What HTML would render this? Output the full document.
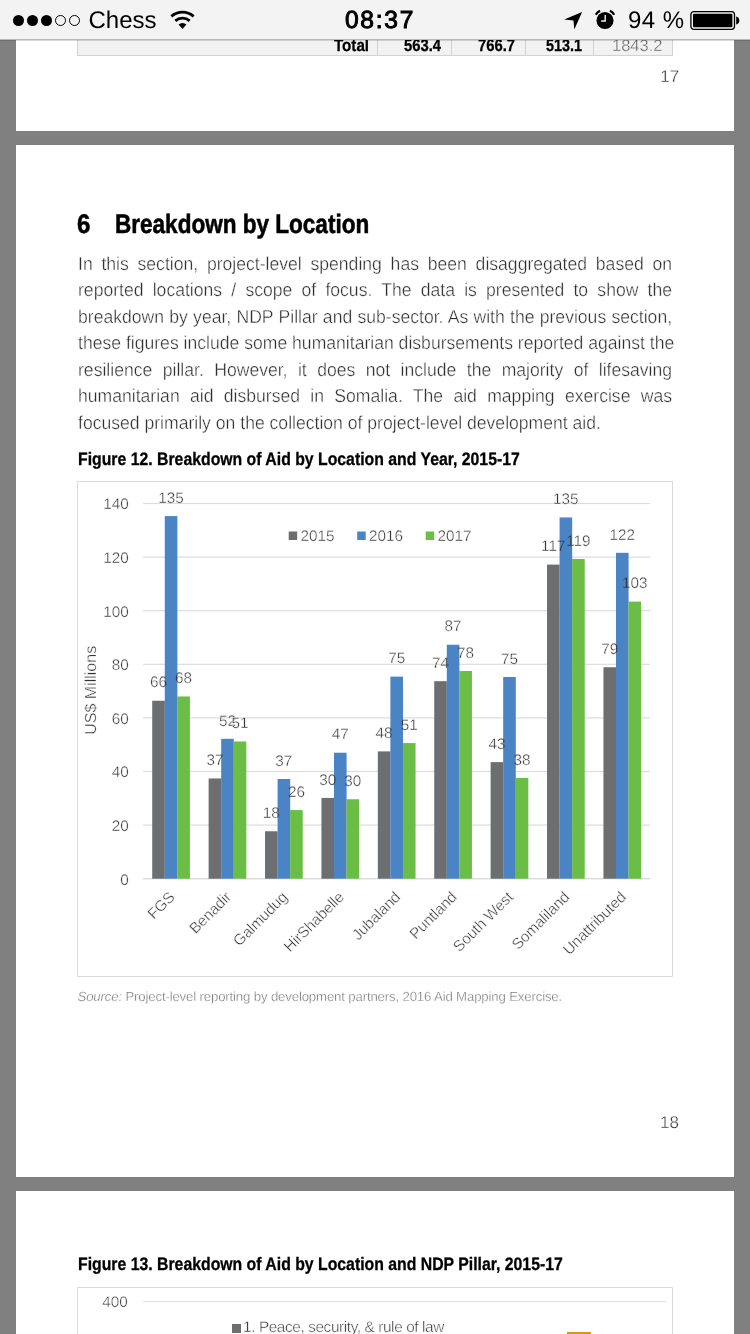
<!DOCTYPE html>
<html><head><meta charset="utf-8"><title>page</title>
<style>
html,body{margin:0;padding:0}
body{text-rendering:geometricPrecision;width:750px;height:1334px;overflow:hidden;background:#808080;position:relative;font-family:"Liberation Sans",sans-serif;}
.abs{position:absolute}
.page{position:absolute;left:16px;width:718px;background:#fff}
#sb{position:absolute;left:0;top:0;width:750px;height:39.3px;background:#f3f3f3;border-bottom:1px solid #b8b8b8;box-shadow:0 0.5px 0.6px rgba(0,0,0,.15);box-sizing:content-box;z-index:5}
.sbt{position:absolute;top:6.8px;font-size:24px;line-height:28px;color:#000;white-space:nowrap}
.dot{position:absolute;top:15.2px;width:11px;height:11px;border-radius:50%;background:#000;box-sizing:border-box}
.dot.h{background:transparent;border:1.2px solid #000}
.pl{position:absolute;left:77.5px;width:631.3px;font-size:18.7px;line-height:22px;color:#303030;-webkit-text-stroke:0.36px #fff;text-align:justify;text-align-last:justify;white-space:nowrap;transform:scaleX(.941);transform-origin:0 50%}
.pl.last{text-align:left;text-align-last:left}
.cb{position:absolute;white-space:nowrap;font-weight:bold;color:#000;transform-origin:0 50%;-webkit-text-stroke:0.3px #000}
.t{font-family:"Liberation Sans",sans-serif;font-size:15.3px;fill:#333333;stroke:#fff;stroke-width:.36px;text-rendering:geometricPrecision}
.tn{font-family:"Liberation Sans",sans-serif;font-size:15.3px;fill:#6a6a6a;text-rendering:geometricPrecision}
.tc{font-family:"Liberation Sans",sans-serif;font-size:15.3px;letter-spacing:-0.15px;fill:#333333;stroke:#fff;stroke-width:.36px;text-rendering:geometricPrecision}
.ty{font-family:"Liberation Sans",sans-serif;font-size:16px;fill:#333333;stroke:#fff;stroke-width:.36px;text-rendering:geometricPrecision}
.pn{position:absolute;font-size:17px;color:#2e2e2e;-webkit-text-stroke:0.36px #fff;white-space:nowrap}
</style></head><body>
<div id="wrap" style="position:absolute;left:0;top:0;width:750px;height:1334px;overflow:hidden;will-change:transform">

<!-- page 1 remainder -->
<div class="page" style="top:0;height:131px"></div>
<div class="abs" style="left:77px;top:30.8px;width:595.5px;height:25px;background:#f2f2f2;border:1px solid #d2d2d2;box-sizing:border-box"></div>
<div class="abs" style="left:376.5px;top:30.8px;width:1px;height:25px;background:#d2d2d2"></div>
<div class="abs" style="left:450.5px;top:30.8px;width:1px;height:25px;background:#d2d2d2"></div>
<div class="abs" style="left:524.5px;top:30.8px;width:1px;height:25px;background:#d2d2d2"></div>
<div class="abs" style="left:592.5px;top:30.8px;width:1px;height:25px;background:#d2d2d2"></div>
<div class="cb" id="tot" style="left:333.8px;top:35.5px;font-size:17px;line-height:20px;transform:scaleX(.89)">Total</div>
<div class="cb" id="c1" style="left:403.5px;top:35.5px;font-size:17px;line-height:20px;transform:scaleX(.87)">563.4</div>
<div class="cb" id="c2" style="left:477.5px;top:35.5px;font-size:17px;line-height:20px;transform:scaleX(.87)">766.7</div>
<div class="cb" id="c3" style="left:545.5px;top:35.5px;font-size:17px;line-height:20px;transform:scaleX(.845)">513.1</div>
<div class="abs" id="c4" style="left:612px;top:35.5px;font-size:16.5px;line-height:20px;color:#5c5c5c;-webkit-text-stroke:0.36px #f2f2f2;white-space:nowrap">1843.2</div>
<div class="pn" id="p17" style="left:660.3px;top:66.5px;line-height:20px">17</div>

<!-- page 2 -->
<div class="page" style="top:144.9px;height:1031.9px"></div>
<div class="cb" id="h6" style="left:77px;top:209.25px;font-size:26.7px;line-height:30px;transform:scaleX(.9);-webkit-text-stroke:0.55px #000">6</div>
<div class="cb" id="h1" style="left:114.5px;top:209.25px;font-size:26.7px;line-height:30px;transform:scaleX(.8445);-webkit-text-stroke:0.55px #000">Breakdown by Location</div>
<div class="pl" style="top:252.9px">In this section, project-level spending has been disaggregated based on</div>
<div class="pl" style="top:279.4px">reported locations / scope of focus. The data is presented to show the</div>
<div class="pl" style="top:305.9px">breakdown by year, NDP Pillar and sub-sector. As with the previous section,</div>
<div class="pl" style="top:332.4px">these figures include some humanitarian disbursements reported against the</div>
<div class="pl" style="top:358.9px">resilience pillar. However, it does not include the majority of lifesaving</div>
<div class="pl" style="top:385.4px">humanitarian aid disbursed in Somalia. The aid mapping exercise was</div>
<div class="pl last" style="top:411.8px"><span id="lastline">focused primarily on the collection of project-level development aid.</span></div>
<div class="cb" id="f12" style="left:77.5px;top:447.5px;font-size:18px;line-height:22px;transform:scaleX(.878)">Figure 12. Breakdown of Aid by Location and Year, 2015-17</div>
<div class="abs" style="left:77px;top:481px;width:596px;height:496px;border:1.3px solid #dbdbdb;box-sizing:border-box"></div>
<svg class="abs" style="left:0;top:0" width="750" height="1334" viewBox="0 0 750 1334">
<defs><clipPath id="i0"><rect x="164.78" y="516.10" width="12.55" height="362.60"/></clipPath><clipPath id="o0"><path clip-rule="evenodd" d="M0 0H750V1334H0Z M164.78 516.10h12.55v362.60h-12.55Z"/></clipPath><clipPath id="i1"><rect x="221.18" y="738.80" width="12.55" height="139.90"/></clipPath><clipPath id="o1"><path clip-rule="evenodd" d="M0 0H750V1334H0Z M221.18 738.80h12.55v139.90h-12.55Z"/></clipPath><clipPath id="i2"><rect x="277.58" y="779.00" width="12.55" height="99.70"/></clipPath><clipPath id="o2"><path clip-rule="evenodd" d="M0 0H750V1334H0Z M277.58 779.00h12.55v99.70h-12.55Z"/></clipPath><clipPath id="i3"><rect x="333.98" y="752.74" width="12.55" height="125.96"/></clipPath><clipPath id="o3"><path clip-rule="evenodd" d="M0 0H750V1334H0Z M333.98 752.74h12.55v125.96h-12.55Z"/></clipPath><clipPath id="i4"><rect x="390.38" y="676.63" width="12.55" height="202.07"/></clipPath><clipPath id="o4"><path clip-rule="evenodd" d="M0 0H750V1334H0Z M390.38 676.63h12.55v202.07h-12.55Z"/></clipPath><clipPath id="i5"><rect x="446.78" y="644.74" width="12.55" height="233.96"/></clipPath><clipPath id="o5"><path clip-rule="evenodd" d="M0 0H750V1334H0Z M446.78 644.74h12.55v233.96h-12.55Z"/></clipPath><clipPath id="i6"><rect x="503.18" y="677.03" width="12.55" height="201.67"/></clipPath><clipPath id="o6"><path clip-rule="evenodd" d="M0 0H750V1334H0Z M503.18 677.03h12.55v201.67h-12.55Z"/></clipPath><clipPath id="i7"><rect x="559.57" y="517.44" width="12.55" height="361.26"/></clipPath><clipPath id="o7"><path clip-rule="evenodd" d="M0 0H750V1334H0Z M559.57 517.44h12.55v361.26h-12.55Z"/></clipPath><clipPath id="i8"><rect x="615.98" y="552.81" width="12.55" height="325.89"/></clipPath><clipPath id="o8"><path clip-rule="evenodd" d="M0 0H750V1334H0Z M615.98 552.81h12.55v325.89h-12.55Z"/></clipPath></defs>
<rect x="143.0" y="878.10" width="507.1" height="1.2" fill="#d4d4d4"/>
<text x="128.8" y="884.60" text-anchor="end" class="t">0</text>
<rect x="143.0" y="824.50" width="507.1" height="1.2" fill="#dcdcdc"/>
<text x="128.8" y="831.00" text-anchor="end" class="t">20</text>
<rect x="143.0" y="770.90" width="507.1" height="1.2" fill="#dcdcdc"/>
<text x="128.8" y="777.40" text-anchor="end" class="t">40</text>
<rect x="143.0" y="717.30" width="507.1" height="1.2" fill="#dcdcdc"/>
<text x="128.8" y="723.80" text-anchor="end" class="t">60</text>
<rect x="143.0" y="663.70" width="507.1" height="1.2" fill="#dcdcdc"/>
<text x="128.8" y="670.20" text-anchor="end" class="t">80</text>
<rect x="143.0" y="610.10" width="507.1" height="1.2" fill="#dcdcdc"/>
<text x="128.8" y="616.60" text-anchor="end" class="t">100</text>
<rect x="143.0" y="556.50" width="507.1" height="1.2" fill="#dcdcdc"/>
<text x="128.8" y="563.00" text-anchor="end" class="t">120</text>
<rect x="143.0" y="502.90" width="507.1" height="1.2" fill="#dcdcdc"/>
<text x="128.8" y="509.40" text-anchor="end" class="t">140</text>
<rect x="152.22" y="700.75" width="12.60" height="177.95" fill="#6d6e70"/>
<rect x="164.78" y="516.10" width="12.60" height="362.60" fill="#4a84c4"/>
<rect x="177.32" y="696.46" width="12.60" height="182.24" fill="#6abd45"/>
<rect x="208.62" y="778.47" width="12.60" height="100.23" fill="#6d6e70"/>
<rect x="221.18" y="738.80" width="12.60" height="139.90" fill="#4a84c4"/>
<rect x="233.72" y="741.48" width="12.60" height="137.22" fill="#6abd45"/>
<rect x="265.03" y="831.26" width="12.60" height="47.44" fill="#6d6e70"/>
<rect x="277.58" y="779.00" width="12.60" height="99.70" fill="#4a84c4"/>
<rect x="290.13" y="810.09" width="12.60" height="68.61" fill="#6abd45"/>
<rect x="321.43" y="797.90" width="12.60" height="80.80" fill="#6d6e70"/>
<rect x="333.98" y="752.74" width="12.60" height="125.96" fill="#4a84c4"/>
<rect x="346.53" y="799.24" width="12.60" height="79.46" fill="#6abd45"/>
<rect x="377.83" y="751.40" width="12.60" height="127.30" fill="#6d6e70"/>
<rect x="390.38" y="676.63" width="12.60" height="202.07" fill="#4a84c4"/>
<rect x="402.93" y="743.09" width="12.60" height="135.61" fill="#6abd45"/>
<rect x="434.23" y="681.18" width="12.60" height="197.52" fill="#6d6e70"/>
<rect x="446.78" y="644.74" width="12.60" height="233.96" fill="#4a84c4"/>
<rect x="459.33" y="671.00" width="12.60" height="207.70" fill="#6abd45"/>
<rect x="490.62" y="762.12" width="12.60" height="116.58" fill="#6d6e70"/>
<rect x="503.18" y="677.03" width="12.60" height="201.67" fill="#4a84c4"/>
<rect x="515.73" y="777.93" width="12.60" height="100.77" fill="#6abd45"/>
<rect x="547.02" y="564.60" width="12.60" height="314.10" fill="#6d6e70"/>
<rect x="559.57" y="517.44" width="12.60" height="361.26" fill="#4a84c4"/>
<rect x="572.12" y="558.98" width="12.60" height="319.72" fill="#6abd45"/>
<rect x="603.43" y="667.25" width="12.60" height="211.45" fill="#6d6e70"/>
<rect x="615.98" y="552.81" width="12.60" height="325.89" fill="#4a84c4"/>
<rect x="628.53" y="601.59" width="12.60" height="277.11" fill="#6abd45"/>
<text x="158.50" y="687.45" text-anchor="middle" class="t" clip-path="url(#o0)">66</text>
<text x="158.50" y="687.45" text-anchor="middle" class="t" style="stroke:#4a84c4" clip-path="url(#i0)">66</text>
<text x="171.05" y="502.80" text-anchor="middle" class="t">135</text>
<text x="183.60" y="683.16" text-anchor="middle" class="t" clip-path="url(#o0)">68</text>
<text x="183.60" y="683.16" text-anchor="middle" class="t" style="stroke:#4a84c4" clip-path="url(#i0)">68</text>
<text x="214.90" y="765.17" text-anchor="middle" class="t" clip-path="url(#o1)">37</text>
<text x="214.90" y="765.17" text-anchor="middle" class="t" style="stroke:#4a84c4" clip-path="url(#i1)">37</text>
<text x="227.45" y="725.50" text-anchor="middle" class="t">52</text>
<text x="240.00" y="728.18" text-anchor="middle" class="t">51</text>
<text x="271.30" y="817.96" text-anchor="middle" class="t" clip-path="url(#o2)">18</text>
<text x="271.30" y="817.96" text-anchor="middle" class="t" style="stroke:#4a84c4" clip-path="url(#i2)">18</text>
<text x="283.85" y="765.70" text-anchor="middle" class="t">37</text>
<text x="296.40" y="796.79" text-anchor="middle" class="t" clip-path="url(#o2)">26</text>
<text x="296.40" y="796.79" text-anchor="middle" class="t" style="stroke:#4a84c4" clip-path="url(#i2)">26</text>
<text x="327.70" y="784.60" text-anchor="middle" class="t" clip-path="url(#o3)">30</text>
<text x="327.70" y="784.60" text-anchor="middle" class="t" style="stroke:#4a84c4" clip-path="url(#i3)">30</text>
<text x="340.25" y="739.44" text-anchor="middle" class="t">47</text>
<text x="352.80" y="785.94" text-anchor="middle" class="t" clip-path="url(#o3)">30</text>
<text x="352.80" y="785.94" text-anchor="middle" class="t" style="stroke:#4a84c4" clip-path="url(#i3)">30</text>
<text x="384.10" y="738.10" text-anchor="middle" class="t" clip-path="url(#o4)">48</text>
<text x="384.10" y="738.10" text-anchor="middle" class="t" style="stroke:#4a84c4" clip-path="url(#i4)">48</text>
<text x="396.65" y="663.33" text-anchor="middle" class="t">75</text>
<text x="409.20" y="729.79" text-anchor="middle" class="t" clip-path="url(#o4)">51</text>
<text x="409.20" y="729.79" text-anchor="middle" class="t" style="stroke:#4a84c4" clip-path="url(#i4)">51</text>
<text x="440.50" y="667.88" text-anchor="middle" class="t" clip-path="url(#o5)">74</text>
<text x="440.50" y="667.88" text-anchor="middle" class="t" style="stroke:#4a84c4" clip-path="url(#i5)">74</text>
<text x="453.05" y="631.44" text-anchor="middle" class="t">87</text>
<text x="465.60" y="657.70" text-anchor="middle" class="t" clip-path="url(#o5)">78</text>
<text x="465.60" y="657.70" text-anchor="middle" class="t" style="stroke:#4a84c4" clip-path="url(#i5)">78</text>
<text x="496.90" y="748.82" text-anchor="middle" class="t" clip-path="url(#o6)">43</text>
<text x="496.90" y="748.82" text-anchor="middle" class="t" style="stroke:#4a84c4" clip-path="url(#i6)">43</text>
<text x="509.45" y="663.73" text-anchor="middle" class="t">75</text>
<text x="522.00" y="764.63" text-anchor="middle" class="t" clip-path="url(#o6)">38</text>
<text x="522.00" y="764.63" text-anchor="middle" class="t" style="stroke:#4a84c4" clip-path="url(#i6)">38</text>
<text x="553.30" y="551.30" text-anchor="middle" class="t" clip-path="url(#o7)">117</text>
<text x="553.30" y="551.30" text-anchor="middle" class="t" style="stroke:#4a84c4" clip-path="url(#i7)">117</text>
<text x="565.85" y="504.14" text-anchor="middle" class="t">135</text>
<text x="578.40" y="545.68" text-anchor="middle" class="t" clip-path="url(#o7)">119</text>
<text x="578.40" y="545.68" text-anchor="middle" class="t" style="stroke:#4a84c4" clip-path="url(#i7)">119</text>
<text x="609.70" y="653.95" text-anchor="middle" class="t" clip-path="url(#o8)">79</text>
<text x="609.70" y="653.95" text-anchor="middle" class="t" style="stroke:#4a84c4" clip-path="url(#i8)">79</text>
<text x="622.25" y="539.51" text-anchor="middle" class="t">122</text>
<text x="634.80" y="588.29" text-anchor="middle" class="t" clip-path="url(#o8)">103</text>
<text x="634.80" y="588.29" text-anchor="middle" class="t" style="stroke:#4a84c4" clip-path="url(#i8)">103</text>
<text transform="translate(172.8,895.2) rotate(-45)" text-anchor="end" class="tc" y="4">FGS</text>
<text transform="translate(229.2,895.2) rotate(-45)" text-anchor="end" class="tc" y="4">Benadir</text>
<text transform="translate(285.6,895.2) rotate(-45)" text-anchor="end" class="tc" y="4">Galmudug</text>
<text transform="translate(342.0,895.2) rotate(-45)" text-anchor="end" class="tc" y="4">HirShabelle</text>
<text transform="translate(398.4,895.2) rotate(-45)" text-anchor="end" class="tc" y="4">Jubaland</text>
<text transform="translate(454.8,895.2) rotate(-45)" text-anchor="end" class="tc" y="4">Puntland</text>
<text transform="translate(511.2,895.2) rotate(-45)" text-anchor="end" class="tc" y="4">South West</text>
<text transform="translate(567.6,895.2) rotate(-45)" text-anchor="end" class="tc" y="4">Somaliland</text>
<text transform="translate(624.0,895.2) rotate(-45)" text-anchor="end" class="tc" y="4">Unattributed</text>
<rect x="288.7" y="531.5" width="8.5" height="8.5" fill="#6d6e70"/>
<text x="300.5" y="541" class="t">2015</text>
<rect x="357.2" y="531.5" width="8.5" height="8.5" fill="#4a84c4"/>
<text x="369.0" y="541" class="t">2016</text>
<rect x="425.7" y="531.5" width="8.5" height="8.5" fill="#6abd45"/>
<text x="437.5" y="541" class="t">2017</text>
<text transform="translate(95.6,690.3) rotate(-90)" text-anchor="middle" class="ty">US$ Millions</text>
</svg>
<div class="abs" id="src" style="left:77.5px;top:987.7px;font-size:13.2px;line-height:18px;color:#707070;-webkit-text-stroke:0.32px #fff;white-space:nowrap;letter-spacing:-0.15px"><i>Source:</i> Project-level reporting by development partners, 2016 Aid Mapping Exercise.</div>
<div class="pn" id="p18" style="left:660px;top:1113.3px;line-height:20px">18</div>

<!-- page 3 -->
<div class="page" style="top:1190.7px;height:160px"></div>
<div class="cb" id="f13" style="left:77.5px;top:1252.9px;font-size:18px;line-height:22px;transform:scaleX(.878)">Figure 13. Breakdown of Aid by Location and NDP Pillar, 2015-17</div>
<div class="abs" style="left:77px;top:1286.5px;width:596px;height:80px;border:1.3px solid #dbdbdb;box-sizing:border-box"></div>
<div class="abs" style="left:142.5px;top:1301.3px;width:523px;height:1.1px;background:#dedede"></div>
<div class="abs" id="y400" style="left:102.3px;top:1293.6px;font-size:15.3px;-webkit-text-stroke:0.4px #fff;line-height:18px;color:#333333;white-space:nowrap">400</div>
<div class="abs" style="left:232px;top:1324px;width:8.5px;height:8.5px;background:#6d6e70"></div>
<div class="abs" id="lg3" style="left:243px;top:1318.6px;font-size:15.3px;letter-spacing:-0.37px;-webkit-text-stroke:0.4px #fff;line-height:18px;color:#333333;white-space:nowrap">1. Peace, security, &amp; rule of law</div>
<div class="abs" style="left:567.2px;top:1332.2px;width:23.7px;height:4px;background:#d7961c"></div>

<!-- status bar -->
<div id="sb">
<div class="dot" style="left:13px"></div><div class="dot" style="left:27px"></div><div class="dot" style="left:41px"></div>
<div class="dot h" style="left:55px"></div><div class="dot h" style="left:69px"></div>
<div class="sbt" id="carrier" style="left:88.5px">Chess</div>
<svg class="abs" style="left:170px;top:10px" width="26" height="20" viewBox="0 0 26 20">
<path d="M1.33 6.39 A16.7 16.7 0 0 1 23.67 6.39" fill="none" stroke="#000" stroke-width="2.8"/>
<path d="M5.34 10.85 A10.7 10.7 0 0 1 19.66 10.85" fill="none" stroke="#000" stroke-width="2.8"/>
<path d="M12.5 18.9 L8.55 14.42 A5.9 5.9 0 0 1 16.45 14.42 Z" fill="#000"/>
</svg>
<div class="sbt" id="time" style="left:344.9px;font-size:24.6px;-webkit-text-stroke:1px #000;letter-spacing:1.75px">08:37</div>
<svg class="abs" style="left:563px;top:11px" width="21" height="19" viewBox="0 0 21 19">
<path d="M19.1 0.9 L1.2 8.5 L10.5 9.6 L11.3 18.4 Z" fill="#000"/>
</svg>
<svg class="abs" style="left:593px;top:9px" width="24" height="21" viewBox="0 0 24 21">
<circle cx="12" cy="11.5" r="8.55" fill="#000"/>
<path d="M12.2 6 V12 H8.2" fill="none" stroke="#f3f3f3" stroke-width="1.4"/>
<path d="M2.76 5.72 A10.9 10.9 0 0 1 7.05 1.79" fill="none" stroke="#000" stroke-width="2.2"/>
<path d="M21.24 5.72 A10.9 10.9 0 0 0 16.95 1.79" fill="none" stroke="#000" stroke-width="2.2"/>
</svg>
<div class="sbt" id="batt" style="left:628px;letter-spacing:0.4px;word-spacing:0.3px">94 %</div>
<svg class="abs" style="left:689px;top:10px" width="52" height="22" viewBox="0 0 52 22">
<rect x="1.9" y="1.7" width="43.6" height="17.6" rx="3" ry="3" fill="none" stroke="#000" stroke-width="1.3"/>
<rect x="4" y="3.8" width="39.4" height="13.4" rx="1.3" fill="#000"/>
<path d="M47.2 6.6 A4 4 0 0 1 47.2 14.4 Z" fill="#000"/>
</svg>
</div>
</div>
</body></html>
